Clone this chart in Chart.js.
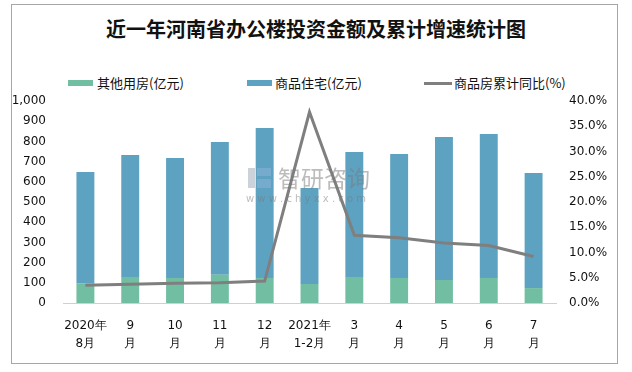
<!DOCTYPE html>
<html>
<head>
<meta charset="utf-8">
<script src="https://cdn.jsdelivr.net/npm/chart.js@4"></script>
<style>
    html, body { margin: 0; padding: 0; background: #fff; }
    #wrap { position: relative; width: 632px; height: 372px; }
    #frame { position: absolute; left: 11px; top: 4px; width: 607px; height: 360px; border: 1px solid #a6a6a6; box-sizing: border-box; }
    #title { position: absolute; left: 0; width: 632px; top: 14px; text-align: center;
        font: bold 20px "Noto Sans CJK SC", serif; color: #111; }
    .leg { position: absolute; top: 75px; font: 13px "Noto Sans CJK SC", sans-serif; color: #111; line-height: 16px; }
    .sw { position: absolute; top: 80px; height: 6px; }
    canvas { position: absolute; left: 0; top: 0; }
</style>
</head>
<body>
<div id="wrap">
    <div id="frame"></div>
    <div id="title">近一年河南省办公楼投资金额及累计增速统计图</div>
    <div class="sw" style="left:68px;width:25px;background:#72bea2"></div>
    <div class="leg" style="left:97px">其他用房(亿元)</div>
    <div class="sw" style="left:247px;width:25px;background:#5ea2c1"></div>
    <div class="leg" style="left:275px">商品住宅(亿元)</div>
    <div class="sw" style="left:424px;width:28px;top:82px;height:3px;background:#7f7f7f"></div>
    <div class="leg" style="left:454px">商品房累计同比(%)</div>
    <canvas id="chart" width="632" height="372"></canvas>
</div>
<script>
const months = [['2020年', '8月'], ['9', '月'], ['10', '月'], ['11', '月'], ['12', '月'],
    ['2021年', '1-2月'], ['3', '月'], ['4', '月'], ['5', '月'], ['6', '月'], ['7', '月']];
const otherHousing = [97, 129, 124, 140, 124, 94, 129, 124, 114, 124, 74];
const residential = [551, 604, 594, 657, 742, 475, 619, 614, 708, 713, 570];
const growthRate = [3.5, 3.7, 3.9, 4.0, 4.35, 37.8, 13.4, 12.9, 11.9, 11.4, 9.2];

const tickFont = { family: 'DejaVu Sans', size: 12 };

const watermark = {
    id: 'watermark',
    afterDatasetsDraw(chart) {
        const ctx = chart.ctx;
        ctx.save();
        ctx.globalAlpha = 0.5;
        ctx.fillStyle = '#9aa5b5';
        ctx.fillRect(248, 168, 7, 20);
        ctx.fillStyle = '#8fb3d9';
        ctx.fillRect(257, 168, 14, 8);
        ctx.fillRect(257, 179, 14, 9);
        ctx.fillStyle = '#7a7a7a';
        ctx.font = '23px "Noto Sans CJK SC"';
        ctx.textBaseline = 'middle';
        ctx.fillText('智研咨询', 278, 178);
        ctx.font = '10px "DejaVu Sans"';
        ctx.fillText('w w w . c h y x x . c o m', 246, 199);
        ctx.restore();
    }
};

new Chart(document.getElementById('chart').getContext('2d'), {
    type: 'bar',
    data: {
        labels: months,
        datasets: [
            {
                type: 'line',
                label: '商品房累计同比(%)',
                data: growthRate,
                borderColor: '#7f7f7f',
                borderWidth: 3,
                pointRadius: 0,
                tension: 0,
                yAxisID: 'y2',
                stack: 'line',
                order: 0
            },
            {
                label: '其他用房(亿元)',
                data: otherHousing,
                backgroundColor: '#72bea2',
                yAxisID: 'y',
                stack: 'bars',
                order: 1
            },
            {
                label: '商品住宅(亿元)',
                data: residential,
                backgroundColor: '#5ea2c1',
                yAxisID: 'y',
                stack: 'bars',
                order: 1
            }
        ]
    },
    options: {
        responsive: false,
        animation: false,
        barPercentage: 0.4,
        categoryPercentage: 1,
        layout: { padding: { top: 101, left: 0, right: 0, bottom: 0 } },
        plugins: { legend: { display: false }, tooltip: { enabled: false } },
        scales: {
            x: {
                stacked: true,
                grid: { display: false },
                border: { display: true, color: '#d0d0d0', width: 1 },
                ticks: { font: { family: 'DejaVu Sans', size: 12, lineHeight: 1.5 }, color: '#111', padding: 6, maxRotation: 0, autoSkip: false },
                afterFit(scale) { scale.height = 69; }
            },
            y: {
                stacked: true,
                position: 'left',
                min: 0,
                max: 1000,
                grid: { display: false },
                border: { display: false },
                ticks: { stepSize: 100, font: tickFont, color: '#111', padding: 9 },
                afterFit(scale) { scale.width = 63; }
            },
            y2: {
                stacked: false,
                position: 'right',
                min: 0,
                max: 40,
                grid: { display: false },
                border: { display: false },
                ticks: { stepSize: 5, font: tickFont, color: '#111', padding: 5,
                    callback: v => v.toFixed(1) + '%' },
                afterFit(scale) { scale.width = 76; }
            }
        }
    },
    plugins: [watermark]
});
</script>
</body>
</html>
